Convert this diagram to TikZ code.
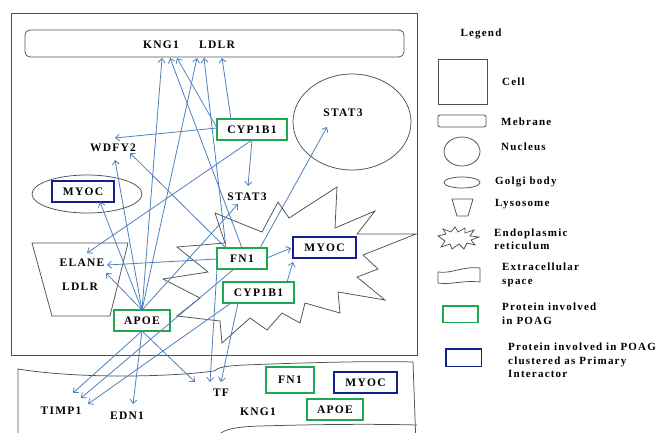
\documentclass[tikz,border=0pt]{standalone}
\usepackage{fontspec}
\setmainfont{Liberation Serif}
\newfontfamily\lbl{Liberation Serif}[LetterSpace=11]
\usetikzlibrary{arrows.meta}
\definecolor{pgreen}{RGB}{30,168,80}
\definecolor{pblue}{RGB}{20,30,140}
\definecolor{arr}{RGB}{79,129,189}
\definecolor{outl}{RGB}{80,80,80}
\begin{document}
\begin{tikzpicture}[x=1pt,y=-1pt,
  lab/.style={font=\lbl\bfseries\fontsize{11.5}{13}\selectfont, inner sep=0pt},
  leg/.style={font=\lbl\bfseries\fontsize{11}{13.5}\selectfont, inner sep=0pt, anchor=west, align=left},
  gbox/.style={lab, draw=pgreen, fill=white, line width=1.6pt, minimum height=21pt},
  bbox/.style={lab, draw=pblue, fill=white, line width=1.6pt, minimum height=21pt},
  shp/.style={draw=outl, line width=0.75pt},
  link/.style={draw=arr, line width=0.8pt, -{Straight Barb[length=4pt,width=7pt]}},
]
\useasboundingbox (0,0) rectangle (664,432);
\fill[white] (0,0) rectangle (664,432);

% ---- compartments
\draw[shp] (11,13) rectangle (417,355);
\draw[shp, rounded corners=5pt] (25,30) rectangle (404,57);
\draw[shp] (352,122) ellipse [x radius=59, y radius=48];
\draw[shp] (87,194) ellipse [x radius=55, y radius=19];
\draw[shp] (32,243) -- (128,243) -- (110,316) -- (52,316) -- cycle;
\draw[shp] (215,213) -- (262,232) -- (278,202) -- (289,218) -- (337,187) -- (335,228)
  -- (375,211) -- (357,234) -- (416,234) -- (363,255) -- (378,269) -- (357,277)
  -- (385,300) -- (338,292) -- (340,313) -- (305,303) -- (300,323) -- (282,313)
  -- (267,330) -- (250,318) -- (222,343) -- (220,321) -- (177,316) -- (200,298)
  -- (163,279) -- (208,272) -- (177,247) -- (225,243) -- cycle;
\begin{scope}
\clip (0,0) rectangle (664,432);
\draw[shp] (18,445) -- (18,369) .. controls (80,379) and (170,377) .. (214,371)
  .. controls (219,367) and (225,366) .. (245,365) .. controls (320,362) and (380,361) .. (413,362) -- (416,445);
\draw[shp] (214,445) .. controls (216,432) and (225,427) .. (260,426) .. controls (330,424) and (380,424) .. (417,425);
\end{scope}

% ---- labels and proteins
\node[lab] (kng1) at (161,45) {KNG1};
\node[lab] (ldlr) at (217,45) {LDLR};
\node[lab] (stat3n) at (343,113) {STAT3};
\node[lab] (wdfy2) at (113,148) {WDFY2};
\node[lab] (stat3c) at (247,197) {STAT3};
\node[lab] (elane) at (82,263) {ELANE};
\node[lab] (ldlrl) at (80,287) {LDLR};
\node[lab] (timp1) at (61,411) {TIMP1};
\node[lab] (edn1) at (127,416) {EDN1};
\node[lab] (tf) at (221,393) {TF};
\node[lab] (kng1e) at (258,412) {KNG1};

\node[gbox, minimum width=70pt] (cyp1) at (252,129.5) {CYP1B1};
\node[bbox, minimum width=62pt] (myocg) at (83,191.5) {MYOC};
\node[gbox, minimum width=50pt] (fn1) at (242,258.5) {FN1};
\node[bbox, minimum width=63pt] (myocer) at (324.5,247.5) {MYOC};
\node[gbox, minimum width=71pt] (cyp2) at (258.5,292.5) {CYP1B1};
\node[gbox, minimum width=56pt] (apoe) at (142,320.5) {APOE};
\node[gbox, minimum width=48pt, minimum height=26pt] (fn1e) at (290,380) {FN1};
\node[bbox, minimum width=63pt] (myoce) at (365.5,382.5) {MYOC};
\node[gbox, minimum width=56pt] (apoee) at (335,409.5) {APOE};

% ---- arrow end points
\coordinate (m1) at (162,58);
\coordinate (m2) at (170,58);
\coordinate (m3) at (177,58);
\coordinate (m4) at (197,58);
\coordinate (m5) at (204,58);
\coordinate (m6) at (222,58);
\coordinate (wA) at (115,138);
\coordinate (wB) at (115,160);
\coordinate (wC) at (130,153);
\coordinate (sc1) at (248,186);
\coordinate (sc2) at (238,204);
\coordinate (sn) at (327,127);
\coordinate (eA) at (87,253);
\coordinate (eB) at (107,265);
\coordinate (eC) at (106,273);
\coordinate (mgA) at (100,202);
\coordinate (meA) at (291,248);
\coordinate (meB) at (293,262);
\coordinate (tA) at (73,393);
\coordinate (tB) at (81,398);
\coordinate (tC) at (88,404);
\coordinate (dA) at (133,404);
\coordinate (fA) at (195,382);
\coordinate (fB) at (210,382);
\coordinate (fC) at (221,382);
% source points
\coordinate (aT) at (142,310);
\coordinate (aB) at (142,331);
\coordinate (cL) at (217,128);
\coordinate (cT) at (231,119);
\coordinate (cB) at (252,140);
\coordinate (nTL) at (226,248);
\coordinate (nT) at (242,248);
\coordinate (nTR) at (260,248);
\coordinate (nL) at (217,259);
\coordinate (nR) at (267,258);
\coordinate (nB) at (234,269);
\coordinate (nBL) at (217,269);
\coordinate (c2T) at (287,282);
\coordinate (c2B) at (231,303);
\coordinate (c2B2) at (238,303);

% ---- interactions
\draw[link] (aT) -- (m1);
\draw[link] (nT) -- (m2);
\draw[link] (cL) -- (m3);
\draw[link] (aT) -- (m4);
\draw[link] (nTL) -- (m5);
\draw[link] (cT) -- (m6);
\draw[link] (cL) -- (wA);
\draw[link] (cB) -- (sc1);
\draw[link] (cB) -- (eA);
\draw[link] (nTR) -- (sn);
\draw[link] (aT) -- (wB);
\draw[link] (nTL) -- (wC);
\draw[link] (aT) -- (mgA);
\draw[link] (aT) -- (sc2);
\draw[link] (nL) -- (eB);
\draw[link] (aT) -- (eC);
\draw[link] (nR) -- (meA);
\draw[link] (c2T) -- (meB);
\draw[link] (aB) -- (tA);
\draw[link] (nB) -- (tB);
\draw[link] (c2B) -- (tC);
\draw[link] (aB) -- (dA);
\draw[link] (aB) -- (fA);
\draw[link] (nBL) -- (fB);
\draw[link] (c2B2) -- (fC);

% ---- legend
\node[lab, font=\lbl\bfseries\fontsize{11}{13}\selectfont] (legt) at (481,34) {Legend};
\draw[shp] (438,59) rectangle (487,104);
\draw[shp, rounded corners=2pt] (438,115) rectangle (486,127);
\draw[shp] (462,151.5) ellipse [x radius=18, y radius=14.5];
\draw[shp] (462,182.5) ellipse [x radius=18, y radius=5.5];
\draw[shp] (452,199) -- (473,199) -- (468,216) -- (457,216) -- cycle;
\draw[shp] (438,236) -- (446,234) -- (443,229) -- (451,232) -- (455,227) -- (458,232)
  -- (465,228) -- (465,233) -- (474,230) -- (470,236) -- (479,237) -- (471,240)
  -- (475,245) -- (467,243) -- (464,249) -- (459,244) -- (452,249) -- (450,244)
  -- (441,247) -- (445,241) -- cycle;
\draw[shp] (438,272) .. controls (452,274) and (462,266) .. (480,268) -- (480,282)
  .. controls (462,280) and (452,285) .. (438,283) -- cycle;
\draw[pgreen, line width=1.6pt] (443,306) rectangle (478,322.5);
\draw[pblue, line width=1.6pt] (446,349) rectangle (481.5,366.5);

\node[leg] (lc) at (502,82) {Cell};
\node[leg] (lm) at (501,122) {Mebrane};
\node[leg] (ln) at (501,147) {Nucleus};
\node[leg] (lg) at (495,182) {Golgi body};
\node[leg] (ll) at (495,204) {Lysosome};
\node[leg] (le) at (494,239) {Endoplasmic\\reticulum};
\node[leg] (lx) at (502,275) {Extracellular\\space};
\node[leg] (lp) at (502,313.5) {Protein involved\\in POAG};
\node[leg] (lq) at (508,360.5) {Protein involved in POAG\\clustered as Primary\\Interactor};
\end{tikzpicture}
\end{document}
